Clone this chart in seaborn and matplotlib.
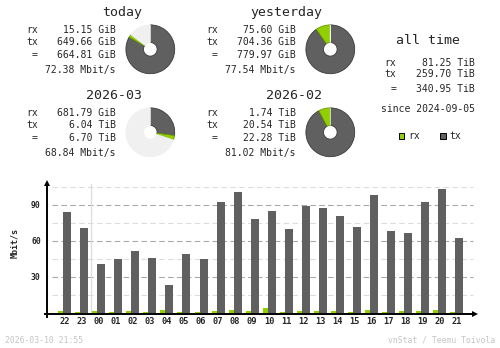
import numpy as np
import pandas as pd
import matplotlib
matplotlib.use("Agg")
import matplotlib.pyplot as plt
from matplotlib.patches import Rectangle
import seaborn as sns

# ---------------- data ----------------
hours = ["22", "23", "00", "01", "02", "03", "04", "05", "06", "07", "08", "09",
         "10", "11", "12", "13", "14", "15", "16", "17", "18", "19", "20", "21"]
tx_rate = [84.2, 70.8, 40.8, 45.0, 51.7, 45.8, 23.3, 49.2, 45.0, 92.5, 100.8, 78.3,
           84.9, 70.0, 89.2, 87.5, 80.8, 71.7, 98.3, 68.3, 66.7, 92.5, 103.3, 62.5]
rx_rate = [1.7, 1.0, 1.7, 1.0, 1.7, 1.0, 2.5, 1.0, 1.0, 1.7, 2.5, 1.7,
           4.2, 1.0, 1.7, 1.7, 1.7, 1.0, 2.5, 1.0, 1.7, 1.7, 2.5, 1.0]
y_ticks = [30, 60, 90]

periods = ["today", "yesterday", "2026-03", "2026-02"]
rx_vals = [15.15, 75.60, 681.79, 1.74]
rx_units = ["GiB", "GiB", "GiB", "TiB"]
tx_vals = [649.66, 704.36, 6.04, 20.54]
tx_units = ["GiB", "GiB", "TiB", "TiB"]
tot_vals = [664.81, 779.97, 6.70, 22.28]
tot_units = ["GiB", "GiB", "TiB", "TiB"]
avg_rates = [72.38, 77.54, 68.84, 81.02]

all_rx, all_tx, all_tot = 81.25, 259.70, 340.95
since = "2024-09-05"
stamp = "2026-03-10 21:55"
credit = "vnStat / Teemu Toivola"

# ---------------- style ----------------
RX = "#92cf00"
RXD = "#6b9900"
TX = "#606060"
TXD = "#3a3a3a"
PIEBG = "#f0f0f0"

sns.set_style("white")
plt.rcParams["font.family"] = ["DejaVu Sans Mono"]

W, H = 500, 348
fig = plt.figure(figsize=(W / 100, H / 100), dpi=100)
fig.patch.set_facecolor("white")


def fx(x):
    return x / W


def fy(y):
    return 1 - y / H


def txt(x, y, s, size=7.0, ha="left", va="baseline", **kw):
    fig.text(fx(x), fy(y), s, fontsize=size, ha=ha, va=va, **kw)


def to_gib(v, u):
    return v * 1024 if u == "TiB" else v


# ---------------- summary blocks ----------------
blocks = [(0, 0), (180, 0), (0, 83), (180, 83)]
ref_total = [max(to_gib(tot_vals[0], tot_units[0]), to_gib(tot_vals[1], tot_units[1]))] * 2 + \
            [max(to_gib(tot_vals[2], tot_units[2]), to_gib(tot_vals[3], tot_units[3]))] * 2

for k, (dx, dy) in enumerate(blocks):
    txt(141.9 + dx, 16.0 + dy, periods[k], size=9.5, ha="right")
    rows = [("rx", f"{rx_vals[k]:.2f} {rx_units[k]}", 32.6),
            ("tx", f"{tx_vals[k]:.2f} {tx_units[k]}", 44.6),
            ("=", f"{tot_vals[k]:.2f} {tot_units[k]}", 58.2)]
    for lab, val, yy in rows:
        txt(37.8 + dx, yy + dy, lab, ha="right")
        txt(115.8 + dx, yy + dy, val, ha="right")
    txt(115.8 + dx, 72.6 + dy, f"{avg_rates[k]:.2f} Mbit/s", ha="right")

    # pie
    cx, cy, r = 150.3 + dx, 49.3 + dy, 24.4
    box = 26.0
    pax = fig.add_axes([fx(cx - box), fy(cy + box), 2 * box / W, 2 * box / H])
    ref = ref_total[k]
    txv = to_gib(tx_vals[k], tx_units[k]) / ref
    rxv = to_gib(rx_vals[k], rx_units[k]) / ref
    rest = max(0.0, 1.0 - txv - rxv)
    wedges, _ = pax.pie([txv, rxv, rest], colors=[TX, RX, PIEBG], startangle=90,
                        counterclock=False, radius=1.0,
                        wedgeprops=dict(width=1 - 6.8 / r, linewidth=0.6))
    wedges[0].set_edgecolor(TXD)
    wedges[1].set_edgecolor(RXD)
    wedges[2].set_edgecolor(PIEBG)
    pax.set_xlim(-box / r, box / r)
    pax.set_ylim(-box / r, box / r)
    pax.set_aspect("equal")
    pax.axis("off")

# all time block
txt(428.5, 44.0, "all time", size=9.5, ha="center")
for lab, val, yy in [("rx", all_rx, 65.7), ("tx", all_tx, 77.4), ("=", all_tot, 91.7)]:
    txt(396.2, yy, lab, ha="right")
    txt(474.6, yy, f"{val:.2f} TiB", ha="right")
txt(474.6, 111.7, f"since {since}", ha="right")

# legend
for sx, col, ecol, lab in [(399.0, RX, RXD, "rx"), (440.3, TX, TXD, "tx")]:
    fig.add_artist(Rectangle((fx(sx), fy(138.8)), 5.4 / W, 5.4 / H,
                             transform=fig.transFigure, facecolor=col,
                             edgecolor="black", linewidth=0.7))
    txt(sx + 8.8, 139.3, lab)

# ---------------- hourly bar chart ----------------
left, right, top, bottom = 48, 477, 181, 313
ax = fig.add_axes([fx(left), fy(bottom), (right - left) / W, (bottom - top) / H])
ax.set_facecolor("white")

idx = np.arange(len(hours))
df = pd.DataFrame({"hour": hours, "rx": rx_rate, "tx": tx_rate,
                   "pos_rx": idx - 0.224, "pos_tx": idx + 0.158})

x_lo, x_hi = -0.96, 24.19
ymax = 110
# grid
for g in [15, 45, 75, 105]:
    ax.axhline(g, xmin=0.009, xmax=0.99, color="#dcdcdc", lw=0.8,
               linestyle=(0, (5, 3)), zorder=0)
for g in y_ticks:
    ax.axhline(g, xmin=0.009, xmax=0.99, color="#a8a8a8", lw=0.8,
               linestyle=(0, (5, 3)), zorder=0)
# day boundary separator (between 23 and 00)
sep = hours.index("00") - 0.45
ax.axvline(sep, ymin=0, ymax=(bottom - 184) / (bottom - top), color="#dcdcdc",
           lw=0.9, zorder=0)

sns.barplot(data=df, x="pos_tx", y="tx", native_scale=True, width=8 / 17,
            color=TX, saturation=1, errorbar=None, ax=ax, zorder=2,
            linewidth=0)
sns.barplot(data=df, x="pos_rx", y="rx", native_scale=True, width=5 / 17,
            color=RX, saturation=1, errorbar=None, ax=ax, zorder=3,
            linewidth=0)

ax.set_xlim(x_lo, x_hi)
ax.set_ylim(0, ymax)
ax.set_xticks(idx)
ax.set_xticklabels(hours, fontsize=6.2, fontweight="bold")
ax.set_yticks(y_ticks)
ax.set_yticklabels([str(v) for v in y_ticks], fontsize=5.8, fontweight="bold")
ax.tick_params(axis="x", length=0, pad=3.2)
ax.tick_params(axis="y", length=0, pad=5.2)
ax.set_xlabel("")
ax.set_ylabel("")
for s in ax.spines.values():
    s.set_visible(False)

# axes with arrows (drawn just outside the plotting area so bars stay visible)
ah = bottom - top
aw = right - left
ax.plot([-1 / aw, -1 / aw], [-5 / ah, 1 - 3 / ah], transform=ax.transAxes,
        color="black", lw=1.4, clip_on=False, zorder=5, solid_capstyle="butt")
ax.plot([-4 / aw, 1 - 3 / aw], [-1 / ah, -1 / ah], transform=ax.transAxes,
        color="black", lw=1.4, clip_on=False, zorder=5, solid_capstyle="butt")
ax.plot([-1 / aw], [1 - 2.2 / ah], marker="^", markersize=4.2, color="black",
        transform=ax.transAxes, clip_on=False, zorder=6, markeredgewidth=0)
ax.plot([1 - 2.2 / aw], [-1 / ah], marker=">", markersize=4.2, color="black",
        transform=ax.transAxes, clip_on=False, zorder=6, markeredgewidth=0)

txt(15.0, 243.3, "Mbit/s", size=6.0, ha="center", va="center", rotation=90,
    fontweight="bold")

# footer
txt(4.8, 342.6, stamp, size=5.9, color="#c4c4c4")
txt(495.5, 342.6, credit, size=5.9, ha="right", color="#c4c4c4")

fig.savefig("out.png", dpi=100, facecolor="white")
